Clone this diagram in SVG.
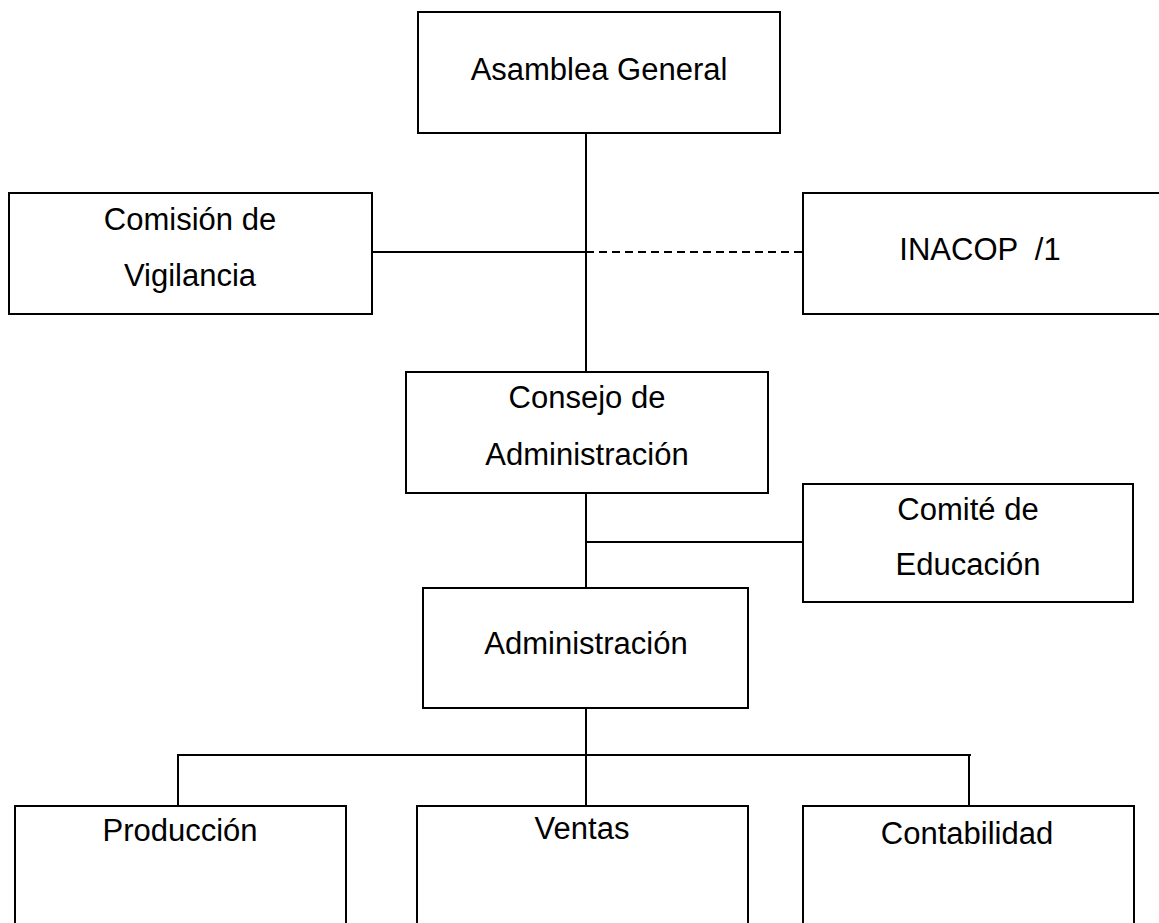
<svg xmlns="http://www.w3.org/2000/svg" width="1159" height="923" viewBox="0 0 1159 923">
  <style>
    .box { fill: #ffffff; stroke: #000000; stroke-width: 2; }
    .link { fill: none; stroke: #000000; stroke-width: 2; }
    .dash { stroke-dasharray: 8 5; }
    .lbl { font-family: "Liberation Sans", Arial, sans-serif; font-size: 31px; fill: #000000; text-anchor: middle; white-space: pre; }
  </style>
  <rect width="1159" height="923" fill="#ffffff"/>

  <g id="connectors">
    <line class="link" x1="586" y1="133" x2="586" y2="372"/>
    <line class="link" x1="372" y1="252" x2="586" y2="252"/>
    <line class="link dash" x1="586" y1="252" x2="803" y2="252"/>
    <line class="link" x1="586" y1="493" x2="586" y2="588"/>
    <line class="link" x1="586" y1="542" x2="803" y2="542"/>
    <line class="link" x1="586" y1="708" x2="586" y2="806"/>
    <polyline class="link" points="178,806 178,755 971,755"/>
    <line class="link" x1="969" y1="755" x2="969" y2="806"/>
  </g>

  <g id="asamblea">
    <rect class="box" x="418" y="12" width="362" height="121"/>
    <text class="lbl" x="599" y="80">Asamblea General</text>
  </g>

  <g id="comision">
    <rect class="box" x="9" y="193" width="363" height="121"/>
    <text class="lbl" x="190" y="230">Comisión de</text>
    <text class="lbl" x="190" y="286">Vigilancia</text>
  </g>

  <g id="inacop">
    <rect class="box" x="803" y="193" width="362" height="121"/>
    <text class="lbl" x="980" y="260" xml:space="preserve">INACOP  /1</text>
  </g>

  <g id="consejo">
    <rect class="box" x="406" y="372" width="362" height="121"/>
    <text class="lbl" x="587" y="408">Consejo de</text>
    <text class="lbl" x="587" y="465">Administración</text>
  </g>

  <g id="comite">
    <rect class="box" x="803" y="484" width="330" height="118"/>
    <text class="lbl" x="968" y="520">Comité de</text>
    <text class="lbl" x="968" y="575">Educación</text>
  </g>

  <g id="administracion">
    <rect class="box" x="423" y="588" width="325" height="120"/>
    <text class="lbl" x="586" y="654">Administración</text>
  </g>

  <g id="produccion">
    <rect class="box" x="15" y="806" width="331" height="130"/>
    <text class="lbl" x="180" y="841">Producción</text>
  </g>

  <g id="ventas">
    <rect class="box" x="417" y="806" width="331" height="130"/>
    <text class="lbl" x="582" y="839">Ventas</text>
  </g>

  <g id="contabilidad">
    <rect class="box" x="803" y="806" width="331" height="130"/>
    <text class="lbl" x="967" y="844">Contabilidad</text>
  </g>
</svg>
